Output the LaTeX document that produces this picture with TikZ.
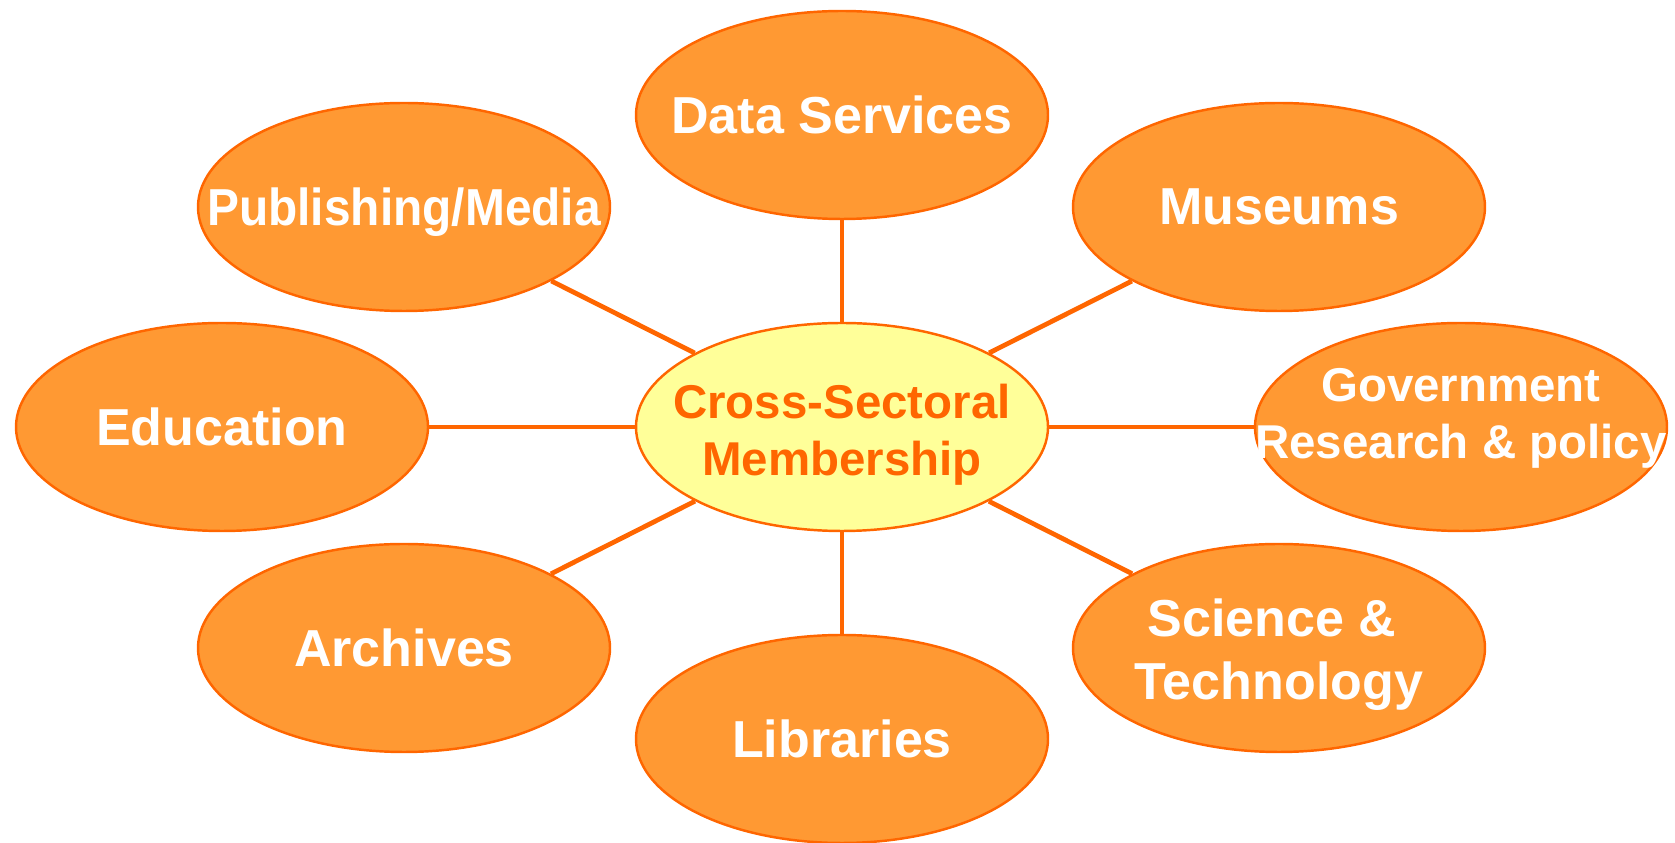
\documentclass[tikz,border=0pt]{standalone}
\usepackage{fontspec}
\setmainfont{Liberation Sans}
\usepackage{graphicx}
\usetikzlibrary{shapes.geometric}
\usetikzlibrary{positioning}
\definecolor{sectorfill}{HTML}{FF9933}
\definecolor{sectorline}{HTML}{FF6600}
\definecolor{hubfill}{HTML}{FFFF99}
\newcommand{\nowidth}[1]{\makebox[0pt]{#1}}
\tikzstyle{sector} = [draw=sectorline, line width=0.7pt, fill=sectorfill, ellipse, inner sep=0pt, minimum width=4.12cm, minimum height=2.08cm, text=white, font=\fontsize{14.8}{18.1}\selectfont\bfseries]
\tikzstyle{hub} = [sector, fill=hubfill, text=sectorline, align=center, font=\fontsize{13.5}{16.3}\selectfont\bfseries]
\tikzstyle{link} = [draw=sectorline, line width=1.35pt]

\begin{document}
\begin{tikzpicture}[x=0.1mm,y=-0.1mm,on grid]
    \useasboundingbox (0,0) rectangle (1675,843);
    \node [hub] (hub) at (842,427) {\nowidth{Cross-Sectoral}\rule{0pt}{14.2pt}\\\nowidth{Membership}\rule[-3pt]{0pt}{0pt}};
    \node [sector, above=3.12cm of hub] (data) {\nowidth{Data Services}};
    \node [sector, below=3.12cm of hub] (libraries) {\nowidth{Libraries}};
    \node [sector, left=6.2cm of hub] (education) {\nowidth{Education}};
    \node [sector, right=6.19cm of hub, align=center, font=\fontsize{13.5}{16.3}\selectfont\bfseries] (government) {\nowidth{Government}\rule{0pt}{11pt}\\\nowidth{Research \& policy}\rule[-9.1pt]{0pt}{0pt}};
    \node [sector, above left=2.2cm and 4.38cm of hub] (publishing) {\nowidth{\scalebox{0.92}[1]{Publishing/Media}\rule{0pt}{13.8pt}}};
    \node [sector, above right=2.2cm and 4.37cm of hub] (museums) {\nowidth{Museums}};
    \node [sector, below left=2.21cm and 4.38cm of hub] (archives) {\nowidth{Archives}};
    \node [sector, below right=2.21cm and 4.37cm of hub, align=center] (science) {\nowidth{Science \&\kern0.28em}\rule{0pt}{14.6pt}\\\nowidth{Technology}\rule[-3.3pt]{0pt}{0pt}};

    \draw [link] (hub) -- (data);
    \draw [link] (hub) -- (libraries);
    \draw [link] (hub) -- (education);
    \draw [link] (hub) -- (government);
    \draw [link] (hub) -- (publishing);
    \draw [link] (hub) -- (museums);
    \draw [link] (hub) -- (archives);
    \draw [link] (hub) -- (science);
\end{tikzpicture}
\end{document}
